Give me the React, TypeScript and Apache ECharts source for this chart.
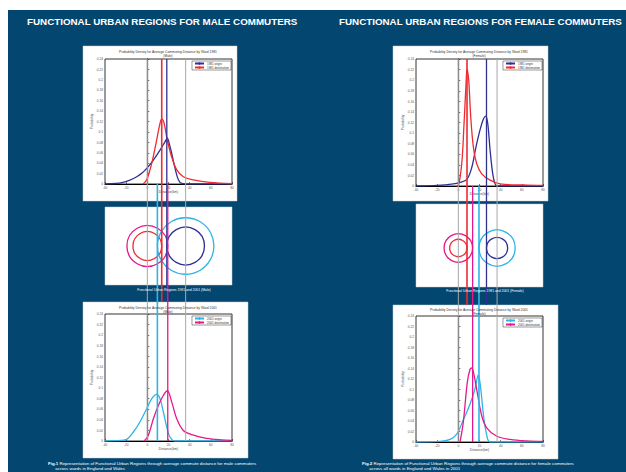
import React, { useEffect, useRef } from "react";
import * as echarts from "echarts";

// ---------- DATA ----------
const xMin = -40;
const xMax = 80;
const xStep = 20;
const yMax = 0.24;
const yStep = 0.02;

// [distance (km), probability density]
const maleOrigin1981 = [[-40, 0], [-30, 0.001], [-24, 0.0025], [-17, 0.007], [-10, 0.014], [-5, 0.021], [-0.6, 0.03], [5.7, 0.046], [12, 0.065], [16.7, 0.081], [18.9, 0.088], [21, 0.075], [23, 0.059], [26.2, 0.03], [29.3, 0.008], [32.5, 0.001], [40, 0], [80, 0]];
const maleDest1981 = [[-4, 0], [-0.6, 0.008], [4.2, 0.04], [8.2, 0.078], [11.3, 0.11], [13.6, 0.125], [15.8, 0.117], [18.9, 0.084], [23, 0.052], [27.8, 0.027], [34, 0.014], [43.5, 0.008], [59, 0.003], [80, 0.0005]];
const femaleOrigin1981 = [[-40, 0], [-20, 0.001], [-4.7, 0.004], [1.6, 0.007], [7.9, 0.012], [12.7, 0.035], [16.7, 0.074], [20.5, 0.106], [23.6, 0.126], [25.9, 0.132], [27.8, 0.118], [30, 0.068], [32.5, 0.023], [34.7, 0.004], [37, 0], [80, 0]];
const femaleDest1981 = [[-2, 0], [0, 0.001], [3.2, 0.042], [5.4, 0.118], [7.3, 0.194], [8.2, 0.221], [9.8, 0.2], [11.7, 0.131], [14.2, 0.074], [17.4, 0.042], [22.1, 0.023], [30, 0.011], [39.4, 0.004], [61.4, 0.002], [80, 0.001]];
const maleOrigin2001 = [[-40, 0], [-25, 0.001], [-19.5, 0.003], [-13.2, 0.017], [-7, 0.036], [-0.6, 0.061], [4.2, 0.08], [8.9, 0.088], [12, 0.08], [15.1, 0.055], [18.3, 0.027], [21.5, 0.007], [26, 0], [80, 0]];
const maleDest2001 = [[-3, 0], [1, 0.011], [5.7, 0.042], [10.4, 0.067], [15.1, 0.086], [18.9, 0.095], [23, 0.074], [27.8, 0.042], [34, 0.02], [43.5, 0.011], [56, 0.005], [70, 0.002], [80, 0.001]];
const femaleOrigin2001 = [[-40, 0], [-17.3, 0.001], [-7.8, 0.005], [-1.5, 0.015], [4.7, 0.042], [11, 0.072], [15.7, 0.101], [18.9, 0.128], [21.2, 0.101], [23.6, 0.054], [26.8, 0.013], [30, 0], [80, 0]];
const femaleDest2001 = [[1.6, 0], [4.7, 0.038], [8.5, 0.114], [11, 0.138], [12.7, 0.141], [14.8, 0.128], [17.9, 0.094], [22.1, 0.05], [26.8, 0.027], [36.3, 0.011], [48.9, 0.005], [65, 0.002], [80, 0.001]];

// FUR centres and mean commute distances: [origin, destination]
const maleCentres = [0, 36.2];
const femaleCentres = [0, 36.6];
const maleMeans1981 = [18.4, 13.6];
const maleMeans2001 = [9.5, 19.3];
const femaleMeans1981 = [26.6, 8.2];
const femaleMeans2001 = [19.5, 13.5];

const seriesNames1981 = ["1981 origin", "1981 destination"];
const seriesNames2001 = ["2001 origin", "2001 destination"];

const headings = ["FUNCTIONAL URBAN REGIONS FOR MALE COMMUTERS", "FUNCTIONAL URBAN REGIONS FOR FEMALE COMMUTERS"];
const chartTitle1981 = "Probability Density for Average Commuting Distance by Ward 1981";
const chartTitle2001 = "Probability Density for Average Commuting Distance by Ward 2001";
const midCaptions = ["Functional Urban Regions 1981 and 2001 (Male)", "Functional Urban Regions 1981 and 2001 (Female)"];
const figCaptions = [
  ["Fig.1", " Representation of Functional Urban Regions through average commute distance for male commuters", "across wards in England and Wales"],
  ["Fig.2", " Representation of Functional Urban Regions through average commute distance for female commuters", "across all wards in England and Wales in 2001"],
];

// ---------- STYLE / LAYOUT ----------
const C = {
  bg: "#03466f",
  o81: "#2e3192",
  d81: "#ee2b2f",
  o01: "#2db4e8",
  d01: "#e5198b",
  gray: "#a8a8a8",
};
const FONT = "Liberation Sans, Arial, sans-serif";

const columns = [
  {
    sex: "Male", plotLeft: 105, plotW: 127,
    top: { y: 59, h: 125 }, bot: { y: 314, h: 127 }, mid: { y: 207, h: 78 },
    topBox: [83, 46, 154, 155], midBox: [105, 207, 127, 78], botBox: [83, 302, 165, 156],
    titleX: 168, topTitleY: 50, botTitleY: 306, midCapX: 174, midCapY: 290,
    headX: 27, capX: 48,
    legTop: 61, legBot: 316,
    o81: maleOrigin1981, d81: maleDest1981, o01: maleOrigin2001, d01: maleDest2001,
    centres: maleCentres, m81: maleMeans1981, m01: maleMeans2001,
  },
  {
    sex: "Female", plotLeft: 416, plotW: 127,
    top: { y: 59, h: 127 }, bot: { y: 316, h: 126 }, mid: { y: 206, h: 84 },
    topBox: [393, 46, 155, 155], midBox: [416, 204, 127, 83], botBox: [393, 305, 165, 154],
    titleX: 479, topTitleY: 50, botTitleY: 308, midCapX: 485, midCapY: 291,
    headX: 339, capX: 362,
    legTop: 61, legBot: 318,
    o81: femaleOrigin1981, d81: femaleDest1981, o01: femaleOrigin2001, d01: femaleDest2001,
    centres: femaleCentres, m81: femaleMeans1981, m01: femaleMeans2001,
  },
];

function buildOption() {
  const grid: any[] = [];
  const xAxis: any[] = [];
  const yAxis: any[] = [];
  const series: any[] = [];
  const legend: any[] = [];
  const graphic: any[] = [];

  graphic.push({ type: "rect", z: 0, shape: { x: 8, y: 10, width: 618, height: 462 }, style: { fill: C.bg } });

  const plotAxis = (gi: number, r: { y: number; h: number }, col: any) => {
    grid.push({ left: col.plotLeft, top: r.y, width: col.plotW, height: r.h, show: true, backgroundColor: "#fff", borderColor: "#000", borderWidth: 0.8, z: 2 });
    xAxis.push({
      gridIndex: gi, type: "value", min: xMin, max: xMax, interval: xStep, z: 3,
      name: "Distance(km)", nameLocation: "middle", nameGap: 6,
      nameTextStyle: { fontSize: 3.3, color: "#444", fontFamily: FONT },
      axisLine: { lineStyle: { color: "#000", width: 1.2 } },
      axisTick: { inside: true, length: 2, lineStyle: { color: "#000", width: 0.5 } },
      axisLabel: { fontSize: 3.2, color: "#555", margin: 2, fontFamily: FONT },
      splitLine: { show: false },
    });
    yAxis.push({
      gridIndex: gi, type: "value", min: 0, max: yMax, interval: yStep, z: 3,
      name: "Probability", nameLocation: "middle", nameGap: 10, nameRotate: 90,
      nameTextStyle: { fontSize: 3.3, color: "#444", fontFamily: FONT },
      axisLine: { lineStyle: { color: "#000", width: 1.2 } },
      axisTick: { inside: true, length: 2, lineStyle: { color: "#000", width: 0.5 } },
      axisLabel: { fontSize: 3.2, color: "#555", margin: 2, fontFamily: FONT, formatter: (v: number) => String(+v.toFixed(2)) },
      splitLine: { show: false },
    });
  };

  const hiddenAxis = (gi: number, left: number, top: number, w: number, h: number) => {
    grid.push({ left, top, width: w, height: h, show: false });
    xAxis.push({ gridIndex: gi, type: "value", min: xMin, max: xMax, show: false });
    yAxis.push({ gridIndex: gi, type: "value", min: 0, max: 1, show: false });
  };

  const lineSeries = (name: string, data: number[][], color: string, gi: number) => ({
    type: "line", name, data, xAxisIndex: gi, yAxisIndex: gi, z: 4,
    symbol: "none", smooth: 0.35, color,
    lineStyle: { color, width: 1.3 },
  });

  columns.forEach((col, ci) => {
    const base = ci * 4;
    [col.topBox, col.midBox, col.botBox].forEach((b) => {
      graphic.push({ type: "rect", z: 1, shape: { x: b[0], y: b[1], width: b[2], height: b[3] }, style: { fill: "#fff", stroke: "#c8c8c8", lineWidth: 0.5 } });
    });
    graphic.push({ type: "text", z: 10, x: col.headX, y: 21, style: { text: headings[ci], fill: "#fff", fontSize: 9.8, fontWeight: "bold", fontFamily: FONT, textVerticalAlign: "middle" } });
    graphic.push({ type: "text", z: 10, x: col.titleX, y: col.topTitleY, style: { text: chartTitle1981 + "\n(" + col.sex + ")", fill: "#333", fontSize: 3.3, fontFamily: FONT, textAlign: "center", lineHeight: 4 } });
    graphic.push({ type: "text", z: 10, x: col.titleX, y: col.botTitleY, style: { text: chartTitle2001 + "\n(" + col.sex + ")", fill: "#333", fontSize: 3.3, fontFamily: FONT, textAlign: "center", lineHeight: 4 } });
    graphic.push({ type: "text", z: 10, x: col.midCapX, y: col.midCapY, style: { text: midCaptions[ci], fill: "#fff", fontSize: 3.4, fontFamily: FONT, textAlign: "center", textVerticalAlign: "middle" } });
    graphic.push({
      type: "text", z: 10, x: col.capX, y: 461,
      style: {
        text: "{b|" + figCaptions[ci][0] + "}" + figCaptions[ci][1] + "\n      " + figCaptions[ci][2],
        rich: { b: { fontWeight: "bold", fontSize: 4.4, fill: "#fff", fontFamily: FONT } },
        fill: "#fff", fontSize: 4.4, fontFamily: FONT, lineHeight: 5,
      },
    });

    plotAxis(base, col.top, col);
    plotAxis(base + 1, col.bot, col);
    hiddenAxis(base + 2, col.plotLeft, col.mid.y, col.plotW, col.mid.h);
    const colTop = col.top.y;
    const colBot = col.bot.y + col.bot.h;
    hiddenAxis(base + 3, col.plotLeft, colTop, col.plotW, colBot - colTop);

    series.push(lineSeries(seriesNames1981[0], col.o81, C.o81, base));
    series.push(lineSeries(seriesNames1981[1], col.d81, C.d81, base));
    series.push(lineSeries(seriesNames2001[0], col.o01, C.o01, base + 1));
    series.push(lineSeries(seriesNames2001[1], col.d01, C.d01, base + 1));

    const circles = [
      { c: col.centres[0], r: col.m01[1] - col.centres[0], color: C.d01 },
      { c: col.centres[0], r: col.m81[1] - col.centres[0], color: C.d81 },
      { c: col.centres[1], r: col.centres[1] - col.m01[0], color: C.o01 },
      { c: col.centres[1], r: col.centres[1] - col.m81[0], color: C.o81 },
    ];
    series.push({
      type: "custom", xAxisIndex: base + 2, yAxisIndex: base + 2, z: 4, silent: true,
      data: circles.map((d) => [d.c, 0.5, d.r]),
      encode: { x: 0, y: 1 },
      renderItem: (params: any, api: any) => {
        const d = circles[params.dataIndex];
        const p = api.coord([api.value(0), api.value(1)]);
        const r = api.size([api.value(2), 0])[0];
        return { type: "circle", shape: { cx: p[0], cy: p[1], r }, style: { fill: "none", stroke: d.color, lineWidth: 1.3 } };
      },
    });

    const t1 = col.top.y + col.top.h;
    const bBoxTop = col.botBox[1];
    const lines = [
      { v: col.centres[0], color: C.gray, w: 1, y0: colTop, y1: colBot },
      { v: col.centres[1], color: C.gray, w: 1, y0: colTop, y1: colBot },
      { v: col.m81[1], color: C.d81, w: 1.6, y0: colTop, y1: bBoxTop },
      { v: col.m81[0], color: C.o81, w: 1.3, y0: colTop, y1: bBoxTop },
      { v: col.m01[0], color: C.o01, w: 1.6, y0: t1, y1: colBot },
      { v: col.m01[1], color: C.d01, w: 1.3, y0: t1, y1: colBot },
    ];
    series.push({
      type: "custom", xAxisIndex: base + 3, yAxisIndex: base + 3, z: 5, silent: true,
      data: lines.map((l) => [l.v, 0]),
      encode: { x: 0, y: 1 },
      renderItem: (params: any, api: any) => {
        const l = lines[params.dataIndex];
        const x = api.coord([api.value(0), 0])[0];
        return { type: "line", shape: { x1: x, y1: l.y0, x2: x, y2: l.y1 }, style: { stroke: l.color, lineWidth: l.w } };
      },
    });

    const legCommon = {
      orient: "vertical", itemGap: 1, itemWidth: 9, itemHeight: 3, padding: [1, 2], z: 10,
      backgroundColor: "#fff", borderColor: "#000", borderWidth: 0.4, borderRadius: 0,
      textStyle: { fontSize: 3, color: "#333", fontFamily: FONT, padding: [0, 0, 0, -2] },
      selectedMode: false,
    };
    legend.push({ ...legCommon, data: seriesNames1981, right: 626 - (col.plotLeft + col.plotW) + 1, top: col.legTop });
    legend.push({ ...legCommon, data: seriesNames2001, right: 626 - (col.plotLeft + col.plotW) + 1, top: col.legBot });
  });

  return { animation: false, backgroundColor: "#fff", grid, xAxis, yAxis, series, legend, graphic };
}

export default function App() {
  const ref = useRef<HTMLDivElement>(null);
  useEffect(() => {
    if (!ref.current) return;
    const chart = echarts.init(ref.current, null, { renderer: "svg" });
    chart.setOption(buildOption() as any);
    return () => chart.dispose();
  }, []);
  return <div ref={ref} style={{ position: "absolute", left: 0, top: 0, width: 626, height: 472 }} />;
}
